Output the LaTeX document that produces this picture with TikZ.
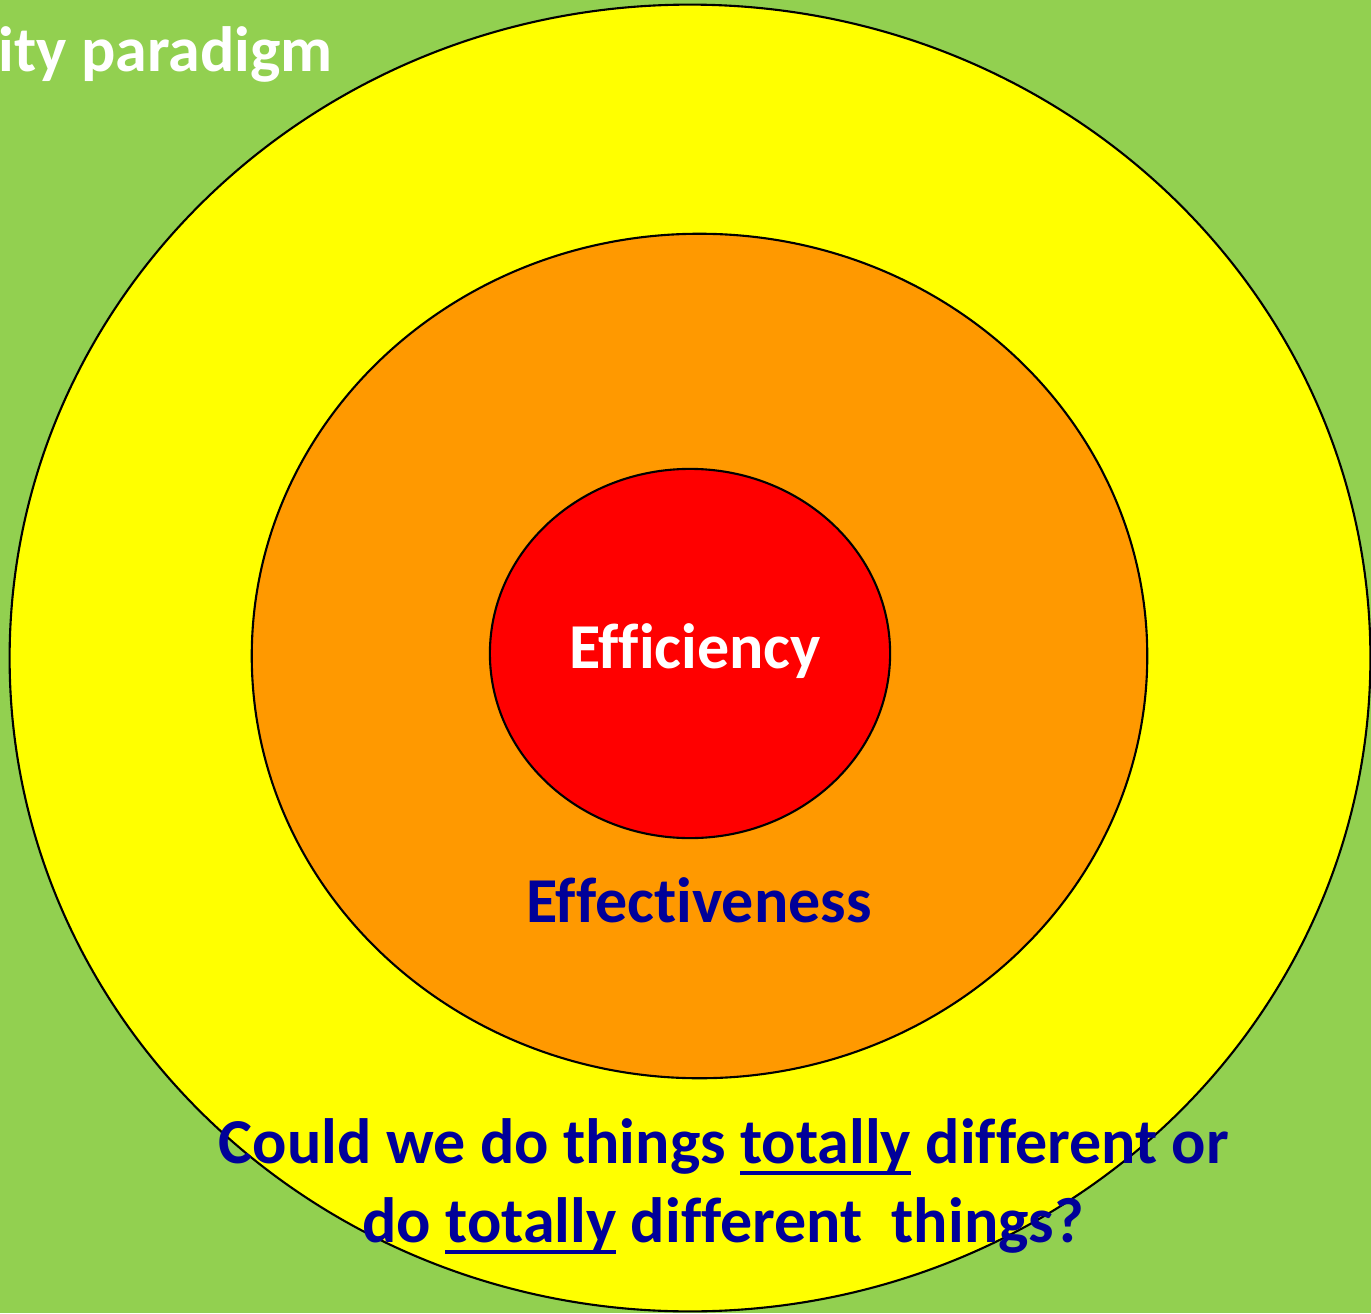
\documentclass[tikz,border=0pt]{standalone}
\usepackage{fontspec}
\setmainfont{Carlito}[Ligatures=CommonOff]
\usepackage{xcolor}
\usetikzlibrary{shapes.geometric,positioning}

\definecolor{bggreen}{RGB}{146,208,80}
\definecolor{ringyellow}{RGB}{255,255,0}
\definecolor{ringorange}{RGB}{255,153,0}
\definecolor{corered}{RGB}{255,0,0}
\definecolor{textblue}{RGB}{0,0,153}

\newcommand\underword[1]{\setbox0=\hbox{#1}\rlap{\rule[-0.19em]{\wd0}{0.07em}}\box0\relax}

\begin{document}
\begin{tikzpicture}[x=0.01cm, y=-0.01cm,
    ring/.style={ellipse, draw=black, line width=0.6pt, inner sep=0pt},
    label/.style={font=\bfseries\fontsize{18.2pt}{20pt}\selectfont, anchor=base, inner sep=0pt},
    question/.style={label, text=textblue}
]

% Background
\fill[bggreen] (0,0) rectangle (1371,1313);
\useasboundingbox (0,0) rectangle (1371,1313);

% Rings
\node[ring, fill=ringyellow, minimum width=13.60cm, minimum height=13.06cm] (outer) at (690,658) {};
\node[ring, fill=ringorange, minimum width=8.95cm, minimum height=8.44cm] (middle) at (699.5,656) {};
\node[ring, fill=corered, minimum width=4.00cm, minimum height=3.69cm] (core) at (690,653.5) {};

% Labels
\node[label, text=white] (efficiency) at (695,668) {Efficiency};
\node[question] (effectiveness) at (699,922) {Effectiveness};
\node[label, text=white, anchor=base west] (paradigm) at (-2,72) {ity paradigm};

% Question
\node[question] (line1) at (724,1163) {Could we do things \underword{totally} different or};
\node[question] (line2) at (723,1242) {do \underword{totally} different\ \ things?};

\end{tikzpicture}
\end{document}
